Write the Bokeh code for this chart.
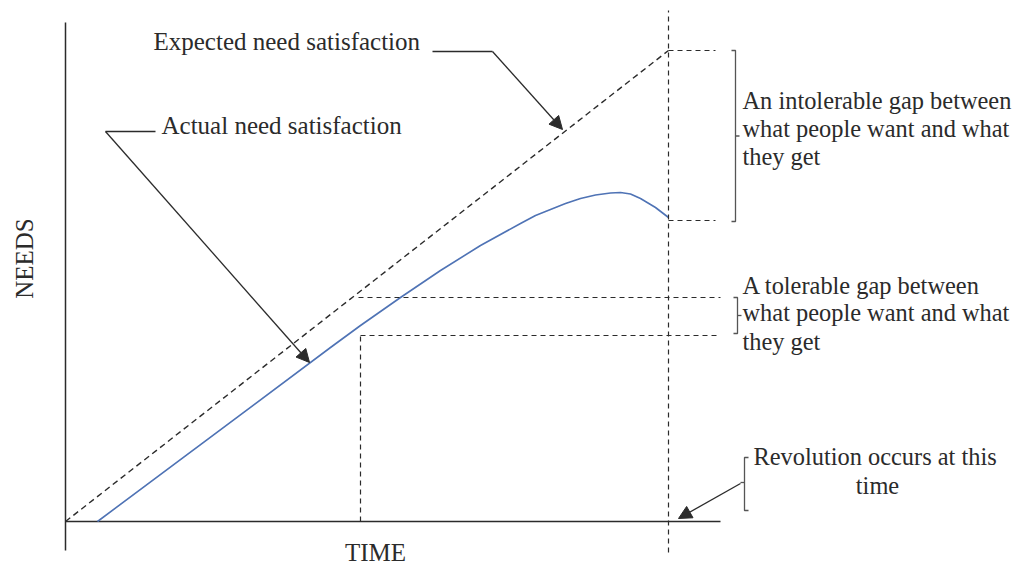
from bokeh.plotting import figure
from bokeh.models import Range1d, Arrow, NormalHead
from bokeh.core.properties import value
from bokeh.embed import file_html
from bokeh.resources import INLINE

# ---- data (time / needs units, origin at axis crossing) ----
expected_time = [0, 603]
expected_needs = [0, 471]

actual_time = [32, 265, 295, 335, 375, 415, 455, 470, 485, 500, 515, 530, 545, 555, 565, 575, 590, 603]
actual_needs = [0, 174, 196, 224, 251, 276, 298, 306, 312, 318, 323, 326.5, 328.5, 329, 327.5, 323, 314, 304]

revolution_time = 603
tolerable_time = 295
tolerable_upper = 224
tolerable_lower = 186
intolerable_upper = 471
intolerable_lower = 301

intolerable_text = ["An intolerable gap between", "what people want and what", "they get"]
tolerable_text = ["A tolerable gap between", "what people want and what", "they get"]
revolution_text = ["Revolution occurs at this", "time"]

FONT = value("Liberation Serif")
INK = "#2b2b2b"

p = figure(width=1016, height=570, x_range=Range1d(-65, 951), y_range=Range1d(-49, 521),
           toolbar_location=None, output_backend="svg", min_border=0)
p.axis.visible = False
p.grid.visible = False
p.outline_line_color = None

# axes lines
p.line([0, 0], [-29, 499], line_color=INK, line_width=1.5)
p.line([0, 655], [0, 0], line_color=INK, line_width=1.5)

# expected need satisfaction
p.line(expected_time, expected_needs, line_color=INK, line_width=1.4, line_dash="6 4")
# actual need satisfaction
p.line(actual_time, actual_needs, line_color="#4f73b5", line_width=1.6, line_join="round")

# revolution vertical
p.line([revolution_time, revolution_time], [-31, 511], line_color=INK, line_width=1.2, line_dash="5 4")

# tolerable gap guides
p.line([tolerable_time - 2, 655], [tolerable_upper, tolerable_upper], line_color=INK, line_width=1.2, line_dash="5 4")
p.line([tolerable_time, 655], [tolerable_lower, tolerable_lower], line_color=INK, line_width=1.2, line_dash="5 4")
p.line([tolerable_time, tolerable_time], [0, tolerable_lower], line_color=INK, line_width=1.2, line_dash="5 4")

# intolerable gap guides
p.line([revolution_time, 650], [intolerable_upper, intolerable_upper], line_color=INK, line_width=1.2, line_dash="5 4")
p.line([revolution_time, 650], [intolerable_lower, intolerable_lower], line_color=INK, line_width=1.2, line_dash="5 4")

# brackets
def right_brace(x, y0, y1):
    ym = (y0 + y1) / 2
    return ([x - 4, x, x, x - 4], [y0, y0, y1, y1]), ([x, x + 4], [ym, ym])

def left_brace(x, y0, y1, ym):
    return ([x + 4, x, x, x + 4], [y0, y0, y1, y1]), ([x, x - 4], [ym, ym])

for a, b in [right_brace(670, intolerable_upper, intolerable_lower - 1),
             right_brace(672, tolerable_upper, tolerable_lower + 2),
             left_brace(679, 64, 11, 39)]:
    p.line(a[0], a[1], line_color="#555", line_width=1.3)
    p.line(b[0], b[1], line_color="#555", line_width=1.3)

# callouts
p.line([367, 427], [470, 470], line_color=INK, line_width=1.3)
p.add_layout(Arrow(end=NormalHead(size=13, fill_color=INK, line_color=INK),
                   x_start=427, y_start=470, x_end=497, y_end=392,
                   line_color=INK, line_width=1.3))
p.line([40, 90], [390, 390], line_color=INK, line_width=1.3)
p.add_layout(Arrow(end=NormalHead(size=13, fill_color=INK, line_color=INK),
                   x_start=40, y_start=390, x_end=244, y_end=159,
                   line_color=INK, line_width=1.3))
p.add_layout(Arrow(end=NormalHead(size=13, fill_color=INK, line_color=INK),
                   x_start=675, y_start=38, x_end=613, y_end=3,
                   line_color=INK, line_width=1.3))

# texts
txt = dict(text_font=FONT, text_font_size="25px", text_color=INK, text_baseline="middle")
txt_r = dict(txt, text_font_size="24.4px")
p.text(x=[88], y=[480], text=["Expected need satisfaction"], text_align="left", **txt)
p.text(x=[96], y=[396], text=["Actual need satisfaction"], text_align="left", **txt)
p.text(x=[677] * 3, y=[421, 393, 365], text=intolerable_text, text_align="left", **txt_r)
p.text(x=[677] * 3, y=[236, 209, 180], text=tolerable_text, text_align="left", **txt_r)
p.text(x=[688], y=[65], text=[revolution_text[0]], text_align="left", **txt_r)
p.text(x=[812], y=[36], text=[revolution_text[1]], text_align="center", **txt_r)
p.text(x=[310], y=[-31], text=["TIME"], text_align="center", **txt)
p.text(x=[-41], y=[263], text=["NEEDS"], text_align="center", angle=1.5708, **txt)

open("out.html", "w").write(file_html(p, INLINE))
